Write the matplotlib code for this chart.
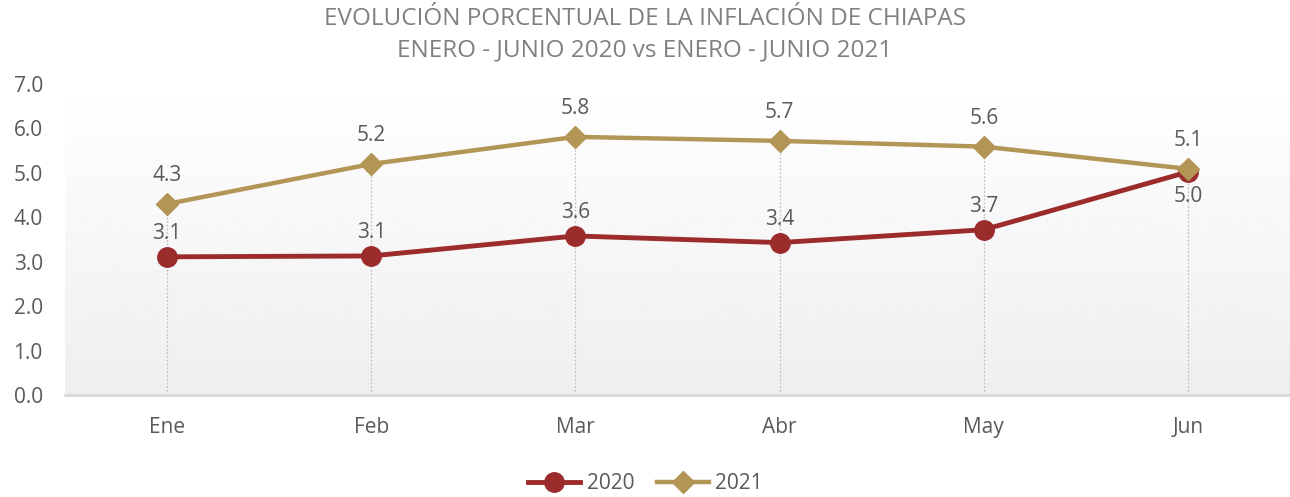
import numpy as np
import matplotlib
matplotlib.use("Agg")
import matplotlib.pyplot as plt

plt.rcParams['font.family'] = ['Open Sans', 'DejaVu Sans']

# Datos
meses = ["Ene", "Feb", "Mar", "Abr", "May", "Jun"]
inf_2020 = [3.11, 3.13, 3.58, 3.43, 3.72, 5.02]
inf_2021 = [4.30, 5.20, 5.81, 5.72, 5.59, 5.09]
yticks = [0, 1, 2, 3, 4, 5, 6, 7]

rojo = "#9C2B2C"
dorado = "#B39656"
gris_txt = "#595959"
fs = 15

fig = plt.figure(figsize=(12.9, 4.97), dpi=100)
ax = fig.add_axes([0.0504, 0.2052, 0.9496, 0.6258])

x = np.arange(len(meses))

# Fondo degradado
grad = np.linspace(1.0, 0.935, 256).reshape(-1, 1)
ax.imshow(grad, extent=[-0.5, len(meses) - 0.5, 0, 7], aspect='auto',
          cmap='gray', vmin=0, vmax=1, origin='upper', zorder=0)

# Lineas de caida
tope = np.maximum(inf_2020, inf_2021)
ax.vlines(x, 0, tope, colors="#bfbfbf", linestyles=(0, (1.5, 1.5)), linewidth=0.9, zorder=1)

ax.plot(x, inf_2020, color=rojo, lw=3.5, marker='o', ms=14, label="2020", zorder=3)
ax.plot(x, inf_2021, color=dorado, lw=3.2, marker='D', ms=11.5, label="2021", zorder=4)

# Etiquetas de datos
for i, v in enumerate(inf_2021):
    ax.annotate("%.1f" % v, (x[i], v), xytext=(0, 13), textcoords='offset points',
                ha='center', va='bottom', fontsize=fs, color=gris_txt, zorder=5)
for i, v in enumerate(inf_2020):
    if i == len(inf_2020) - 1:
        ax.annotate("%.1f" % v, (x[i], v), xytext=(0, -10), textcoords='offset points',
                    ha='center', va='top', fontsize=fs, color=gris_txt, zorder=5)
    else:
        ax.annotate("%.1f" % v, (x[i], v), xytext=(0, 9), textcoords='offset points',
                    ha='center', va='bottom', fontsize=fs, color=gris_txt, zorder=5)

ax.set_xlim(-0.5, len(meses) - 0.5)
ax.set_ylim(0, 7)
ax.set_xticks(x)
ax.set_xticklabels(meses)
ax.set_yticks(yticks)
ax.set_yticklabels(["%.1f" % t for t in yticks])
ax.tick_params(axis='both', length=0, labelsize=fs, colors=gris_txt)
ax.tick_params(axis='x', pad=16)
ax.tick_params(axis='y', pad=16)

for s in ['top', 'right', 'left']:
    ax.spines[s].set_visible(False)
ax.spines['bottom'].set_color("#d9d9d9")
ax.spines['bottom'].set_linewidth(2)

fig.text(0.5, 0.962, "EVOLUCIÓN PORCENTUAL DE LA INFLACIÓN DE CHIAPAS",
         ha='center', va='center', fontsize=17.5, color="#808080")
fig.text(0.5, 0.898, "ENERO - JUNIO 2020 vs ENERO - JUNIO 2021",
         ha='center', va='center', fontsize=17.5, color="#808080")

ax.legend(loc='center', bbox_to_anchor=(0.474, -0.286), ncol=2, frameon=False,
          fontsize=fs, labelcolor=gris_txt, handlelength=2.5, columnspacing=1.1,
          handletextpad=0.3)

fig.savefig("out.png", dpi=100)
